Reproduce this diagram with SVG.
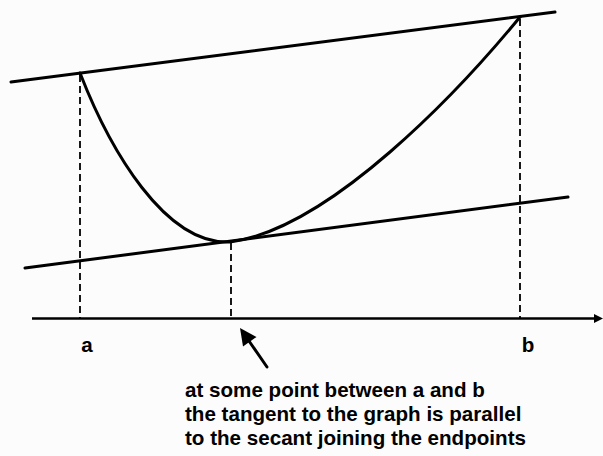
<svg xmlns="http://www.w3.org/2000/svg" width="603" height="456" viewBox="0 0 603 456">
<style>
.ln{stroke:#000;stroke-width:3;fill:none;stroke-linecap:round}
.ds{stroke:#000;stroke-width:1.8;fill:none;stroke-dasharray:7 4}
.ax{stroke:#000;stroke-width:2.5;fill:none}
.t{font-family:"Liberation Sans",Arial,sans-serif;font-weight:bold;font-size:20.6px;fill:#000}
</style>
<rect width="603" height="456" fill="#fcfcfc"/>
<g id="connectors">
<line class="ds" x1="80" y1="75" x2="80" y2="318"/>
<line class="ds" x1="520" y1="19" x2="520" y2="318"/>
<line class="ds" x1="231" y1="243" x2="231" y2="318"/>
<line class="ax" x1="32" y1="318.5" x2="596" y2="318.5"/>
<path d="M603,318.5 L594,314 L594,323 z" fill="#000"/>
<line class="ln" x1="267" y1="367" x2="249" y2="341" stroke-width="4.5" stroke-linecap="butt"/>
<path d="M240,328 L256.5,337 L243,346.5 z" fill="#000"/>
</g>
<g id="secant"><line class="ln" x1="11" y1="82" x2="555" y2="12"/></g>
<g id="tangent"><line class="ln" x1="25" y1="268" x2="568" y2="197"/></g>
<g id="graph"><path class="ln" d="M80,73 C110,150 165,245 230,242 C330,229 460,90 520,17"/></g>
<g id="labels">
<text class="t" x="87" y="352" text-anchor="middle">a</text>
<text class="t" x="528" y="352" text-anchor="middle">b</text>
<text class="t" x="185" y="397">at some point between a and b</text>
<text class="t" x="185" y="421">the tangent to the graph is parallel</text>
<text class="t" x="185" y="445">to the secant joining the endpoints</text>
</g>
</svg>
